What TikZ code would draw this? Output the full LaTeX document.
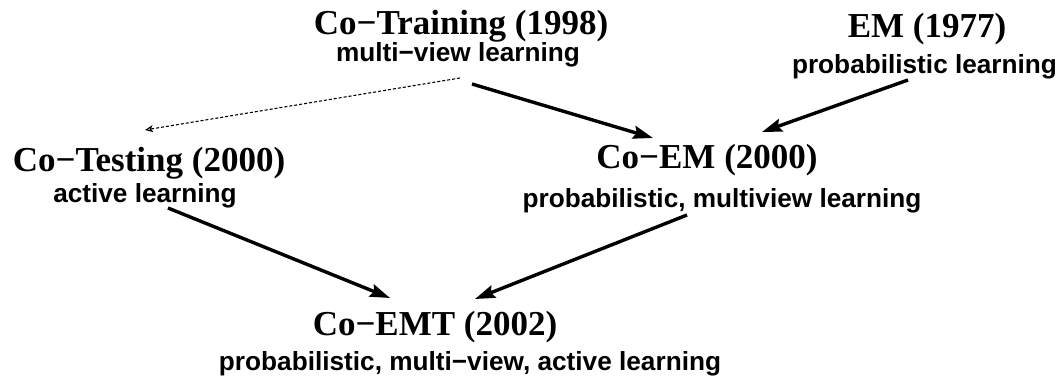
\documentclass[tikz,border=0pt]{standalone}
\usepackage{fontspec}
\setmainfont{Liberation Serif}
\setsansfont{Liberation Sans}
\usetikzlibrary{arrows.meta,calc}
\tikzset{
  ttl/.style={anchor=base,inner sep=0pt,font=\rmfamily\bfseries\fontsize{35}{40}\selectfont},
  sub/.style={anchor=base,inner sep=0pt,font=\sffamily\bfseries\fontsize{26.2}{30}\selectfont},
  link/.style={line width=3.4pt,-{Stealth[length=20pt,width=13pt,inset=3pt]}},
  weak/.style={line width=1.1pt,dash pattern=on 3pt off 2pt,-{Stealth[open,length=8pt,width=7pt,inset=2pt]}}
}
\begin{document}
\begin{tikzpicture}[x=1pt,y=-1pt]
\useasboundingbox (0,0) rectangle (1059,387);
\node[ttl] (trt) at (461,35) {Co−Training (1998)};
\node[sub] (trs) at (458,62) {multi−view learning};
\node[ttl] (emt) at (927,38) {EM (1977)};
\node[sub] (ems) at (924.5,74) {probabilistic learning};
\node[ttl] (ctt) at (149,172) {Co−Testing (2000)};
\node[sub] (cts) at (145,203) {active learning};
\node[ttl] (cet) at (707,169) {Co−EM (2000)};
\node[sub] (ces) at (722,208) {probabilistic, multiview learning};
\node[ttl] (cxt) at (435,335) {Co−EMT (2002)};
\node[sub] (cxs) at (470,370) {probabilistic, multi−view, active learning};
\draw[weak] ($(trs.base)+(2,16)$) -- ($(ctt.base)+(-4,-42)$);
\draw[link] ($(trs.base)+(14,22)$) -- ($(cet.base)+(-54,-31)$);
\draw[link] ($(ems.base)+(-16.5,6)$) -- ($(cet.base)+(55,-37)$);
\draw[link] ($(cts.base)+(23,5)$) -- ($(cxt.base)+(-45,-37)$);
\draw[link] ($(ces.base)+(-35,7)$) -- ($(cxt.base)+(40,-36)$);
\end{tikzpicture}
\end{document}
